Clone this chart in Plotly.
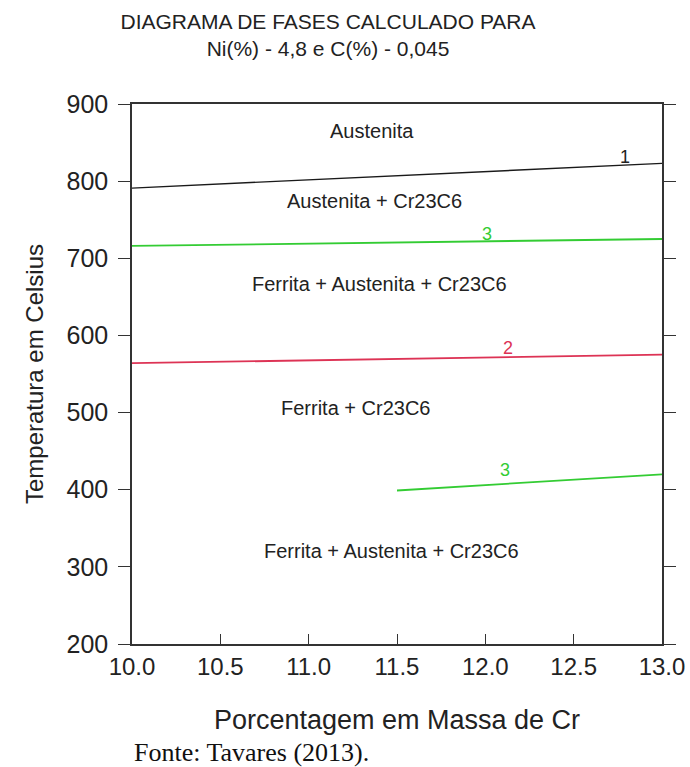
import plotly.graph_objects as go

# Phase boundary lines (Cr %, Temperature °C)
line1_x = [10.0, 13.0]
line1_y = [791, 823]
line3a_x = [10.0, 13.0]
line3a_y = [716, 725]
line2_x = [10.0, 13.0]
line2_y = [564, 575]
line3b_x = [11.5, 13.0]
line3b_y = [399, 420]

# Line labels
num_labels = ["1", "3", "2", "3"]
num_x = [12.79, 12.01, 12.13, 12.11]
num_y = [831, 731, 584, 425]
num_colors = ["#222222", "#33cc33", "#dd3355", "#33cc33"]

# Region labels
region_labels = ["Austenita", "Austenita + Cr23C6", "Ferrita + Austenita + Cr23C6",
                 "Ferrita + Cr23C6", "Ferrita + Austenita + Cr23C6"]
region_x = [11.36, 11.37, 11.40, 11.27, 11.47]
region_y = [865, 774, 667, 506, 320]

x_ticks = [10.0, 10.5, 11.0, 11.5, 12.0, 12.5, 13.0]
y_ticks = [200, 300, 400, 500, 600, 700, 800, 900]

fig = go.Figure()
fig.add_trace(go.Scatter(x=line1_x, y=line1_y, mode="lines",
                         line=dict(color="#1a1a1a", width=1.4), showlegend=False))
fig.add_trace(go.Scatter(x=line3a_x, y=line3a_y, mode="lines",
                         line=dict(color="#33cc33", width=1.8), showlegend=False))
fig.add_trace(go.Scatter(x=line2_x, y=line2_y, mode="lines",
                         line=dict(color="#dd3355", width=1.8), showlegend=False))
fig.add_trace(go.Scatter(x=line3b_x, y=line3b_y, mode="lines",
                         line=dict(color="#33cc33", width=1.8), showlegend=False))

for t, x, y, c in zip(num_labels, num_x, num_y, num_colors):
    fig.add_annotation(x=x, y=y, text=t, showarrow=False,
                       font=dict(family="Liberation Sans", size=18, color=c))

for t, x, y in zip(region_labels, region_x, region_y):
    fig.add_annotation(x=x, y=y, text=t, showarrow=False,
                       font=dict(family="Liberation Sans", size=20, color="#222222"))

fig.add_annotation(xref="paper", yref="paper", x=0.0, y=-(752 - 644) / 540, xanchor="left",
                   yanchor="middle", text="Fonte: Tavares (2013).", showarrow=False,
                   font=dict(family="Liberation Serif", size=26, color="#111111"))

fig.update_layout(
    width=690, height=767,
    margin=dict(l=132, r=28, t=104, b=123, autoexpand=False),
    paper_bgcolor="white", plot_bgcolor="white",
    title=dict(text="DIAGRAMA DE FASES CALCULADO PARA<br>Ni(%) - 4,8 e C(%) - 0,045",
               x=328/690, xanchor="center", y=1 - 29/767, yanchor="middle",
               font=dict(family="Liberation Sans", size=21, color="#222222")),
    font=dict(family="Liberation Sans", color="#222222"),
)

fig.update_xaxes(range=[10.0, 13.0], tickvals=x_ticks, ticktext=[f"{v:.1f}" for v in x_ticks],
                 automargin=False,
                 showgrid=False, zeroline=False, showline=True, linecolor="#333333", linewidth=1.5,
                 mirror=True, ticks="inside", ticklen=10, tickcolor="#333333", tickwidth=1.3,
                 tickfont=dict(size=24, family="Liberation Sans", color="#222222"),
                 title=dict(text="Porcentagem em Massa de Cr", standoff=32,
                            font=dict(size=27, family="Liberation Sans", color="#222222")))
fig.update_yaxes(range=[200, 900], tickvals=y_ticks, automargin=False,
                 showgrid=False, zeroline=False, showline=True, linecolor="#333333", linewidth=1.5,
                 mirror="ticks", ticks="outside", ticklen=12, tickcolor="#333333", tickwidth=1.3,
                 ticklabelstandoff=5,
                 tickfont=dict(size=25, family="Liberation Sans", color="#222222"),
                 title=dict(text="Temperatura em Celsius", standoff=16,
                            font=dict(size=24, family="Liberation Sans", color="#222222")))

fig.write_html("out.html")
